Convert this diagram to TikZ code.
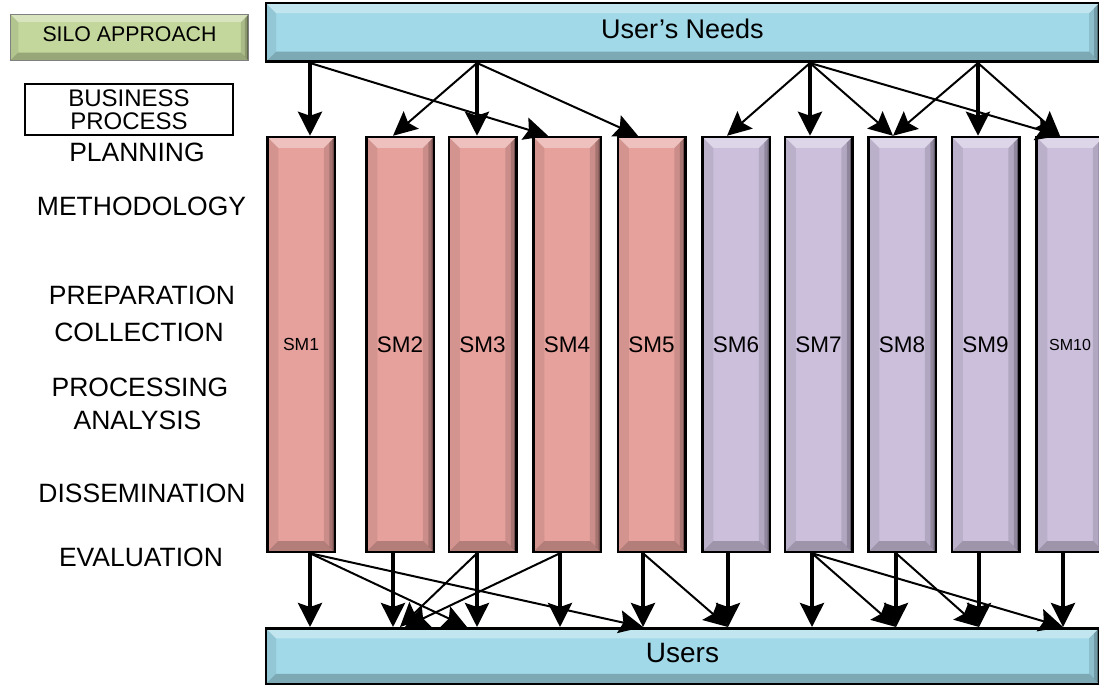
\documentclass[tikz,border=0pt]{standalone}
\usepackage{fontspec}
\setmainfont{Liberation Sans}
\usetikzlibrary{arrows.meta, calc}

\definecolor{needsblue}{HTML}{A1D9E9}
\definecolor{silogreen}{HTML}{C3D69B}
\definecolor{smred}{HTML}{E6A19C}
\definecolor{smpurple}{HTML}{CBBFDC}

\tikzset{
    bevel/.style={path picture={
        \path (path picture bounding box.north west) coordinate (pnw)
              (path picture bounding box.north east) coordinate (pne)
              (path picture bounding box.south west) coordinate (psw)
              (path picture bounding box.south east) coordinate (pse);
        \fill[white, opacity=.35] (pnw) -- (pne) -- ([shift={(-#1,-#1)}]pne) -- ([shift={(#1,-#1)}]pnw) -- cycle;
        \fill[black, opacity=.22] (psw) -- (pse) -- ([shift={(-#1,#1)}]pse) -- ([shift={(#1,#1)}]psw) -- cycle;
        \fill[black, opacity=.08] (pnw) -- ([shift={(#1,-#1)}]pnw) -- ([shift={(#1,#1)}]psw) -- (psw) -- cycle;
        \fill[black, opacity=.12] (pne) -- ([shift={(-#1,-#1)}]pne) -- ([shift={(-#1,#1)}]pse) -- (pse) -- cycle;
        \fill[black, opacity=.18] (pne) -- ([shift={(-.5*#1,-.5*#1)}]pne) -- ([shift={(-.5*#1,.5*#1)}]pse) -- (pse) -- cycle;
        \fill[black, opacity=.3] (pne) -- ([shift={(-.2*#1,-.2*#1)}]pne) -- ([shift={(-.2*#1,.2*#1)}]pse) -- (pse) -- cycle;
    }}
}

\begin{document}
\begin{tikzpicture}[
        x=1pt, y=-1pt,
        bar/.style={rectangle, draw, line width=2.5pt, fill=needsblue, bevel=10pt, minimum width=833pt, inner sep=0pt, text depth=7pt, font=\fontsize{27}{30}\selectfont},
        smbox/.style={rectangle, draw, line width=2.5pt, bevel=11pt, minimum width=67.5pt, minimum height=415pt, inner sep=0pt, font=\fontsize{22.5}{25}\selectfont},
        stage/.style={inner sep=0pt, font=\fontsize{26.5}{28}\selectfont},
        vert/.style={-{Stealth[length=24pt, width=24pt, inset=4pt]}, line width=3.5pt},
        diag/.style={-{Stealth[length=24pt, width=23pt, inset=4pt]}, line width=2pt}
    ]
    \useasboundingbox (0,0) rectangle (1099,687);
    \fill[white] (0,0) rectangle (1099,687);

    % titles on the left
    \node[rectangle, draw=gray, line width=1pt, fill=silogreen, bevel=8pt, minimum width=238.5pt, minimum height=46.5pt, inner sep=0pt, text depth=6pt, font=\fontsize{21.3}{24}\selectfont] (silo) at (129.5,37.5) {SILO APPROACH};
    \node[rectangle, draw, line width=2pt, minimum width=207.5pt, minimum height=50.5pt, inner sep=0pt, align=center, font=\fontsize{24}{22.7}\selectfont] (bproc) at (129,109.5) {BUSINESS\\PROCESS};

    % stages
    \node[stage] (planning) at (137,152) {PLANNING};
    \node[stage] (methodology) at (141.5,206) {METHODOLOGY};
    \node[stage] (preparation) at (142,295) {PREPARATION};
    \node[stage] (collection) at (139,332) {COLLECTION};
    \node[stage] (processing) at (140,387) {PROCESSING};
    \node[stage] (analysis) at (137.5,420) {ANALYSIS};
    \node[stage] (dissemination) at (142,493) {DISSEMINATION};
    \node[stage] (evaluation) at (141,557) {EVALUATION};

    % bars
    \node[bar, minimum height=58.5pt] (needs) at (682.5,32.5) {User’s Needs};
    \node[bar, minimum height=55.5pt, font=\fontsize{28}{30}\selectfont] (users) at (682.5,656) {Users};

    % statistical machines
    \node[smbox, fill=smred, font=\fontsize{17.5}{20}\selectfont] (sm1) at (301,344.5) {SM1};
    \node[smbox, fill=smred] (sm2) at (400,344.5) {SM2};
    \node[smbox, fill=smred] (sm3) at (482.5,344.5) {SM3};
    \node[smbox, fill=smred] (sm4) at (567,344.5) {SM4};
    \node[smbox, fill=smred] (sm5) at (651.5,344.5) {SM5};
    \node[smbox, fill=smpurple] (sm6) at (736,344.5) {SM6};
    \node[smbox, fill=smpurple] (sm7) at (818.5,344.5) {SM7};
    \node[smbox, fill=smpurple] (sm8) at (902,344.5) {SM8};
    \node[smbox, fill=smpurple] (sm9) at (985.5,344.5) {SM9};
    \node[smbox, fill=smpurple, font=\fontsize{16}{18}\selectfont] (sm10) at (1070,344.5) {SM10};

    % attach points
    \coordinate (t1) at ([xshift=9pt]sm1.north);
    \coordinate (t2) at ([xshift=-7pt]sm2.north);
    \coordinate (t3) at ([xshift=-5.5pt]sm3.north);
    \coordinate (t4) at ([xshift=-19pt]sm4.north);
    \coordinate (t5) at ([xshift=-13.5pt]sm5.north);
    \coordinate (t6) at ([xshift=-9pt]sm6.north);
    \coordinate (t7) at ([xshift=-8.5pt]sm7.north);
    \coordinate (t8) at ([xshift=-9pt]sm8.north);
    \coordinate (t9) at ([xshift=-7.5pt]sm9.north);
    \coordinate (t10) at ([xshift=-10pt]sm10.north);
    \coordinate (b1) at ([xshift=9pt]sm1.south);
    \coordinate (b2) at ([xshift=-7pt]sm2.south);
    \coordinate (b3) at ([xshift=-5.5pt]sm3.south);
    \coordinate (b4) at ([xshift=-7pt]sm4.south);
    \coordinate (b5) at ([xshift=-8.5pt]sm5.south);
    \coordinate (b6) at ([xshift=-8pt]sm6.south);
    \coordinate (b7) at ([xshift=-6.5pt]sm7.south);
    \coordinate (b8) at ([xshift=-6pt]sm8.south);
    \coordinate (b9) at ([xshift=-6.5pt]sm9.south);
    \coordinate (b10) at ([xshift=-7pt]sm10.south);
    \coordinate (m1) at (467,600);
    \coordinate (m2) at (400,600);
    \coordinate (m3) at (405,600);

    % needs -> machines
    \draw[vert] (needs.south -| t1) -- (t1);
    \draw[diag] (needs.south -| t1) -- (t4);
    \draw[diag] (needs.south -| t3) -- (t2);
    \draw[vert] (needs.south -| t3) -- (t3);
    \draw[diag] (needs.south -| t3) -- (t5);
    \draw[diag] (needs.south -| t7) -- (t6);
    \draw[vert] (needs.south -| t7) -- (t7);
    \draw[diag] (needs.south -| t7) -- (t8);
    \draw[diag] (needs.south -| t7) -- (t10);
    \draw[diag] (needs.south -| t9) -- (t8);
    \draw[vert] (needs.south -| t9) -- (t9);
    \draw[diag] (needs.south -| t9) -- (t10);

    % machines -> users
    \draw[vert] (b1) -- (users.north -| b1);
    \draw[vert] (b2) -- (users.north -| b2);
    \draw[vert] (b3) -- (users.north -| b3);
    \draw[vert] (b4) -- (users.north -| b4);
    \draw[vert] (b5) -- (users.north -| b5);
    \draw[vert] (b6) -- (users.north -| b6);
    \draw[vert] (b7) -- (users.north -| b7);
    \draw[vert] (b8) -- (users.north -| b8);
    \draw[vert] (b9) -- (users.north -| b9);
    \draw[vert] (b10) -- (users.north -| b10);
    \draw[diag] (b1) -- (users.north -| m1);
    \draw[diag] (b1) -- (users.north -| b5);
    \draw[diag] (b3) -- (users.north -| m2);
    \draw[diag] (b4) -- (users.north -| m3);
    \draw[diag] (b5) -- (users.north -| b6);
    \draw[diag] (b7) -- (users.north -| b8);
    \draw[diag] (b7) -- (users.north -| b10);
    \draw[diag] (b8) -- (users.north -| b9);

\end{tikzpicture}
\end{document}
